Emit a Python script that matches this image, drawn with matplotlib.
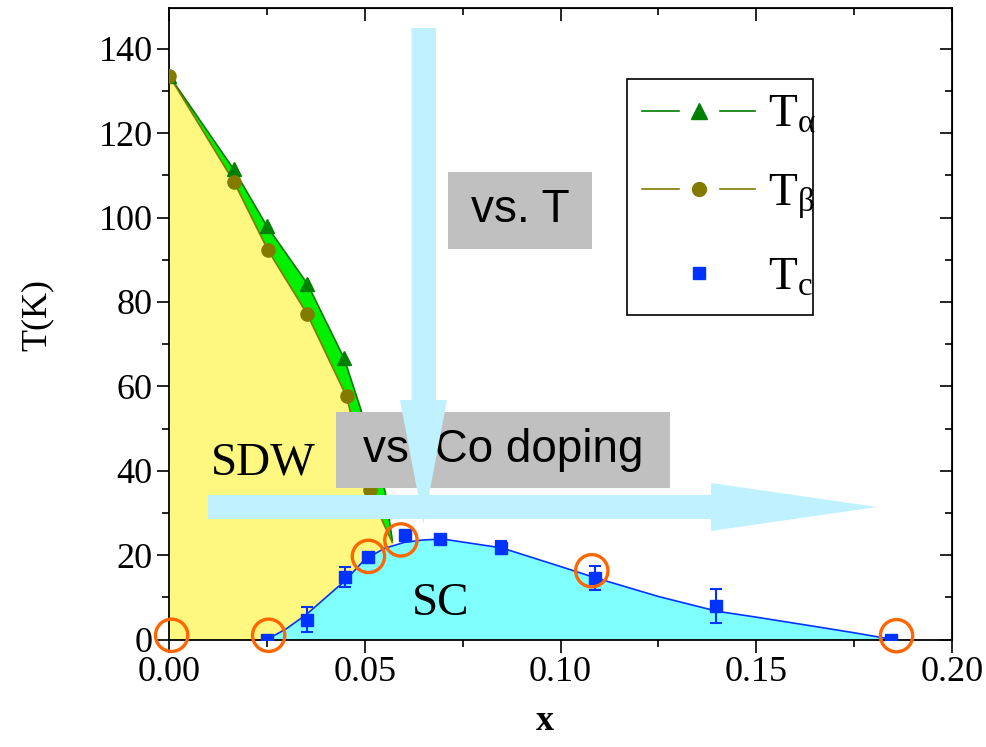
import numpy as np
import matplotlib.pyplot as plt
from matplotlib.patches import Polygon, Rectangle
from matplotlib.lines import Line2D
from matplotlib.ticker import MultipleLocator
from matplotlib.legend_handler import HandlerTuple

plt.rcParams['font.family'] = ['Liberation Serif', 'DejaVu Serif']
plt.rcParams['mathtext.fontset'] = 'custom'
plt.rcParams['mathtext.rm'] = 'Liberation Serif'
plt.rcParams['mathtext.it'] = 'Liberation Serif:italic'

# ---------- data ----------
# T_alpha (triangles)
xa = [0.0, 0.0165, 0.0250, 0.0353, 0.0447]
ta = [133.6, 111.4, 97.9, 84.3, 66.6]
# T_alpha line (upper edge of green band)
xa_line = [0.0, 0.0165, 0.0250, 0.0353, 0.0447, 0.0488, 0.0520, 0.0552, 0.0570]
ta_line = [133.6, 111.4, 97.9, 84.3, 66.6, 55.0, 45.0, 35.0, 23.5]

# T_beta (circles)
xb = [0.0, 0.0165, 0.0252, 0.0352, 0.0453, 0.0513]
tb = [133.6, 108.5, 92.3, 77.2, 57.6, 35.4]
xb_line = [0.0, 0.0165, 0.0252, 0.0352, 0.0453, 0.0513, 0.0545, 0.0570]
tb_line = [133.6, 108.5, 92.3, 77.2, 57.6, 35.4, 28.0, 23.0]

# Tc (squares)
xc = [0.025, 0.0352, 0.045, 0.0508, 0.0603, 0.0692, 0.0847, 0.1088, 0.1397, 0.1845]
tc = [0.0, 4.7, 14.9, 19.6, 24.8, 23.8, 21.8, 14.6, 8.0, 0.0]
tc_err = [0.0, 3.0, 2.4, 0.0, 0.0, 0.0, 1.5, 2.8, 4.0, 0.0]
# Tc guide line
xc_line = [0.025, 0.030, 0.035, 0.045, 0.050, 0.055, 0.060, 0.065, 0.070, 0.085,
           0.100, 0.109, 0.125, 0.140, 0.150, 0.165, 0.175, 0.185]
tc_line = [0.0, 2.6, 5.9, 14.0, 19.0, 21.6, 23.0, 23.6, 23.8, 21.7,
           17.3, 14.6, 10.2, 6.7, 5.3, 3.1, 1.6, 0.0]

# highlighted points (orange rings)
x_ring = [0.0006, 0.0254, 0.0509, 0.0592, 0.1080, 0.1859]
t_ring = [1.0, 1.0, 19.7, 23.6, 16.3, 0.9]

# ---------- figure ----------
W, H = 987, 747
fig = plt.figure(figsize=(W / 100, H / 100), dpi=100)
ax = fig.add_axes([169.3 / W, (H - 639.5) / H, 782.4 / W, 631.2 / H])

def px(x, y):
    return (x / W, 1 - y / H)

yellow = '#FFF880'
cyan = '#80FFFF'
lgreen = '#00F000'
dgreen = '#007A00'
olive = '#807A00'
blue = '#0033FF'

# filled regions
ax.fill_between(xb_line, 0, tb_line, color=yellow, lw=0, zorder=1)
ax.fill(np.r_[xa_line, xb_line[::-1]], np.r_[ta_line, tb_line[::-1]],
        color=lgreen, lw=0, zorder=2)
ax.fill_between(xc_line, 0, tc_line, color=cyan, lw=0, zorder=2)

# lines
ax.plot(xa_line, ta_line, color=dgreen, lw=1.2, zorder=3)
ax.plot(xb_line, tb_line, color=olive, lw=1.2, zorder=3)
ax.plot(xc_line, tc_line, color=blue, lw=1.2, zorder=3)

# markers
ax.plot(xa, ta, ls='none', marker='^', ms=10, color='#008000', zorder=4)
ax.plot(xb, tb, ls='none', marker='o', ms=9.5, color='#837B00', zorder=4)
ax.errorbar(xc, tc, yerr=tc_err, fmt='s', ms=9, color=blue, ecolor=blue,
            elinewidth=1.5, capsize=4.3, capthick=1.5, zorder=5)

# orange rings
ax.scatter(x_ring, t_ring, s=540, facecolors='none', edgecolors='#FF6600',
           linewidths=2.4, zorder=6, clip_on=False)

# region labels
ax.text(0.0105, 39, 'SDW', fontsize=34, va='baseline', ha='left', zorder=7)
ax.text(0.062, 5.9, 'SC', fontsize=34, va='baseline', ha='left', zorder=7)

# axes
ax.set_xlim(0, 0.2)
ax.set_ylim(0, 149.6)
ax.xaxis.set_major_locator(MultipleLocator(0.05))
ax.xaxis.set_minor_locator(MultipleLocator(0.025))
ax.yaxis.set_major_locator(MultipleLocator(20))
ax.yaxis.set_minor_locator(MultipleLocator(10))
ax.xaxis.set_major_formatter(plt.FuncFormatter(lambda v, p: '%.2f' % v))
ax.tick_params(which='major', direction='out', length=9, width=1.2, labelsize=26, pad=3)
ax.tick_params(which='minor', direction='out', length=5, width=1.2)
for s in ax.spines.values():
    s.set_linewidth(1.3)

secx = ax.secondary_xaxis('top')
secx.xaxis.set_major_locator(MultipleLocator(0.05))
secx.xaxis.set_minor_locator(MultipleLocator(0.025))
secx.tick_params(which='both', direction='in', labeltop=False, width=1.2)
secx.tick_params(which='major', length=9)
secx.tick_params(which='minor', length=5)
secy = ax.secondary_yaxis('right')
secy.yaxis.set_major_locator(MultipleLocator(20))
secy.yaxis.set_minor_locator(MultipleLocator(10))
secy.tick_params(which='both', direction='in', labelright=False, width=1.2)
secy.tick_params(which='major', length=9)
secy.tick_params(which='minor', length=5)

ax.set_ylabel('T(K)', fontsize=26)
ax.yaxis.set_label_coords(-0.169, 0.514)
ax.yaxis.label.set_va('center')
ax.set_xlabel('x', fontsize=26, fontweight='bold')
ax.xaxis.set_label_coords(0.48, -0.13)
ax.xaxis.label.set_va('center')

# legend
gap = dict(ls='none', marker='s', ms=27, color='white', mec='white')
h_a = (Line2D([], [], color=dgreen, lw=1.2), Line2D([], [], **gap),
       Line2D([], [], ls='none', marker='^', ms=11, color='#008000'))
h_b = (Line2D([], [], color=olive, lw=1.2), Line2D([], [], **gap),
       Line2D([], [], ls='none', marker='o', ms=10, color='#837B00'))
h_c = Line2D([], [], ls='none', marker='s', ms=8, color=blue)
leg = ax.legend([h_a, h_b, h_c],
                [r'$\mathrm{T}_{\mathrm{α}}$', r'$\mathrm{T}_{\mathrm{β}}$', r'$\mathrm{T}_{\mathrm{c}}$'],
                handler_map={tuple: HandlerTuple(ndivide=1)},
                loc='upper left', bbox_to_anchor=(0.585, 0.3927, 0.2375, 0.4953),
                mode='expand',
                fontsize=34, frameon=True, fancybox=False, edgecolor='black',
                framealpha=1, handlelength=2.4, handletextpad=0.27,
                labelspacing=0.75, borderpad=0.32, borderaxespad=0)
leg.get_frame().set_linewidth(1.2)
leg.set_zorder(8)

# gray boxes and light-blue arrows (figure pixel coordinates)
gray = '#C0C0C0'
abl = '#BFF1FE'
for (x0, y0, x1, y1, txt) in [(448, 172, 592, 249, 'vs. T'),
                              (336, 412, 670, 488, 'vs. Co doping')]:
    fig.add_artist(Rectangle(px(x0, y1), (x1 - x0) / W, (y1 - y0) / H,
                             transform=fig.transFigure, color=gray, lw=0, zorder=10))
    cx, cy = px((x0 + x1) / 2, (y0 + y1) / 2)
    fig.text(cx, cy, txt, fontsize=33, family=['Liberation Sans', 'DejaVu Sans'],
             ha='center', va='center', zorder=11)

v_arrow = [(411.5, 28), (436, 28), (436, 400), (447, 400), (423.5, 524),
           (400, 400), (411.5, 400)]
h_arrow = [(208, 495), (711, 495), (711, 483), (877, 507), (711, 531),
           (711, 519), (208, 519)]
for pts in (h_arrow, v_arrow):
    fig.add_artist(Polygon([px(a, b) for a, b in pts], closed=True,
                           transform=fig.transFigure, color=abl, lw=0, zorder=12))

fig.savefig('out.png', dpi=100)
